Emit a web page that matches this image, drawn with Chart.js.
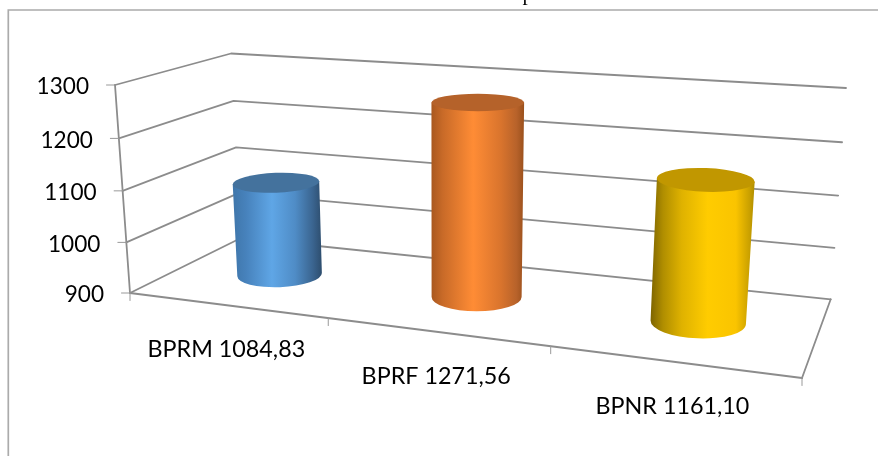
<!DOCTYPE html>
<html>
<head>
<meta charset="utf-8">
<style>html,body{margin:0;padding:0;background:#fff}canvas{display:block}</style>
<script src="https://cdn.jsdelivr.net/npm/chart.js@4"></script>
</head>
<body>
<canvas id="c" width="878" height="456"></canvas>
<script>
const categories = ["BPRM 1084,83", "BPRF 1271,56", "BPNR 1161,10"];
const values = [1084.83, 1271.56, 1161.10];
const axisMin = 900;
const axisMax = 1300;
const axisStep = 100;
const titleFragment = "p";

const topColors = ["#44729d", "#b5622a", "#c19700"];
const sideStops = [
  [[0,"#3f76aa"],[0.15,"#4782bc"],[0.44,"#5fa6e6"],[0.7,"#4f8cc6"],[0.9,"#3a648f"],[1,"#2d4d6d"]],
  [[0,"#a9581f"],[0.12,"#c86a28"],[0.45,"#ff8c35"],[0.75,"#d9742d"],[0.92,"#b7622a"],[1,"#9a501c"]],
  [[0,"#7d6400"],[0.12,"#b08e00"],[0.3,"#dfb200"],[0.55,"#ffcc00"],[0.82,"#fac400"],[0.95,"#c9a000"],[1,"#b08e00"]]
];

// Perspective frame of the 3D box, as seen in the picture
const FL = [130,293], FR = [802,378], BL = [241,238], BR = [830.7,299.3];
const hFL = [-15,-208], hFR = [20,-240], hBL = [-10,-184.5], hBR = [15.3,-211.3];
const lerp = (p,q,s) => [p[0]+(q[0]-p[0])*s, p[1]+(q[1]-p[1])*s];
const persp = (t,k) => k*t/(1+(k-1)*t);
function project(t,b,d){
  const a = persp(t,0.837), v = persp(b,0.965);
  const base = lerp(lerp(FL,FR,a), lerp(BL,BR,a), d);
  const h = lerp(lerp(hFL,hFR,a), lerp(hBL,hBR,a), d);
  return [base[0]+h[0]*v, base[1]+h[1]*v];
}

const box3d = {
  id:"box3d",
  beforeDatasetsDraw(chart){
    const {ctx,chartArea:A,scales:{x,y}} = chart;
    const fb = v => (A.bottom - y.getPixelForValue(v))/(A.bottom-A.top);
    const fx = i => (x.getPixelForValue(i)-A.left)/(A.right-A.left);
    ctx.save();
    // chart border
    ctx.strokeStyle="#ababab"; ctx.lineWidth=1.7;
    ctx.beginPath(); ctx.moveTo(8.3,456); ctx.lineTo(8.3,10); ctx.lineTo(878,10); ctx.stroke();
    // fragment of the cut-off title
    ctx.fillStyle="#000"; ctx.font='21px "Liberation Serif"'; ctx.textAlign="left"; ctx.textBaseline="alphabetic";
    ctx.fillText(titleFragment,522.5,-0.3);

    ctx.strokeStyle="#8c8c8c"; ctx.lineWidth=1.8; ctx.lineCap="round"; ctx.lineJoin="round";
    const line=(pts)=>{ctx.beginPath();pts.forEach((p,i)=>i?ctx.lineTo(p[0],p[1]):ctx.moveTo(p[0],p[1]));ctx.stroke();};
    // walls and floor
    y.ticks.forEach(tk=>{
      const b=fb(tk.value);
      line([project(0,b,0),project(0,b,1),project(1,b,1)]);
    });
    line([project(0,0,0),project(0,1,0)]);
    line([project(1,0,1),project(1,0,0)]);
    ctx.lineWidth=2.1;
    line([project(0,0,0),project(1,0,0)]);
    // ticks
    ctx.lineWidth=1; ctx.strokeStyle="#999";
    y.ticks.forEach(tk=>{
      const p=project(0,fb(tk.value),0);
      line([[p[0]-8.5,p[1]],p]);
    });
    const n=categories.length;
    for(let i=0;i<=n;i++){
      const p=project(i/n,0,0);
      line([p,[p[0],p[1]+7.5]]);
    }
    // tick labels
    ctx.fillStyle="#000"; ctx.font='22.6px Lato'; ctx.textBaseline="middle";
    ctx.textAlign="right";
    y.ticks.forEach(tk=>{
      const p=project(0,fb(tk.value),0);
      ctx.fillText(tk.label,p[0]-26,p[1]+2);
    });
    ctx.font='23.3px Lato';
    ctx.textAlign="center";
    categories.forEach((c,i)=>{
      const p=project(fx(i),0,0);
      ctx.fillText(x.getLabelForValue(i),p[0],p[1]+44.5);
    });
    ctx.restore();
  },
  afterDatasetsDraw(chart){
    const {ctx,chartArea:A,scales:{y}} = chart;
    const meta = chart.getDatasetMeta(0);
    const d0=0.55, ratio=0.21;
    meta.data.forEach((el,i)=>{
      const t=(el.x-A.left)/(A.right-A.left);
      const b=(A.bottom-y.getPixelForValue(values[i]))/(A.bottom-A.top);
      const nudge=(t-0.5)*4;
      const top=project(t,b,d0), bot=project(t,0,d0);
      top[0]+=nudge; bot[0]+=nudge; bot[1]+=1.5;
      const scaleW=1+(t-0.5)*0.18;
      const hwT=el.width/2*scaleW*(1+0.015*b), hwB=el.width/2*scaleW*(1-0.015);
      const span=bb=>Math.abs(project(t,bb,1)[1]-project(t,bb,0)[1]);
      const ryT=span(b)*ratio, ryB=span(0)*ratio*1.03;
      const rot=(t-0.5)*6.5*Math.PI/180;
      const c=Math.cos(rot), s=Math.sin(rot);
      const tl=[top[0]-hwT*c,top[1]-hwT*s], tr=[top[0]+hwT*c,top[1]+hwT*s];
      const minX=Math.min(tl[0],bot[0]-hwB), maxX=Math.max(tr[0],bot[0]+hwB);
      const g=ctx.createLinearGradient(minX,0,maxX,0);
      sideStops[i].forEach(st=>g.addColorStop(st[0],st[1]));
      ctx.save();
      ctx.fillStyle=g;
      ctx.beginPath();
      ctx.moveTo(tl[0],tl[1]);
      ctx.lineTo(bot[0]-hwB*c,bot[1]-hwB*s);
      ctx.ellipse(bot[0],bot[1],hwB,ryB,rot,Math.PI,0,true);
      ctx.lineTo(tr[0],tr[1]);
      ctx.closePath();
      ctx.fill();
      ctx.fillStyle=topColors[i];
      ctx.beginPath();
      ctx.ellipse(top[0],top[1],hwT,ryT,rot,0,Math.PI*2);
      ctx.fill();
      ctx.restore();
    });
  }
};

new Chart(document.getElementById("c"),{
  type:"bar",
  data:{labels:categories,datasets:[{data:values,backgroundColor:"rgba(0,0,0,0)",borderWidth:0,barPercentage:0.408,categoryPercentage:1}]},
  options:{
    responsive:false,animation:false,
    layout:{padding:{left:130,right:76,top:85,bottom:163}},
    plugins:{legend:{display:false},tooltip:{enabled:false},title:{display:false}},
    scales:{
      x:{display:false},
      y:{display:false,min:axisMin,max:axisMax,ticks:{stepSize:axisStep,callback:v=>String(v)}}
    }
  },
  plugins:[box3d]
});
</script>
</body>
</html>
